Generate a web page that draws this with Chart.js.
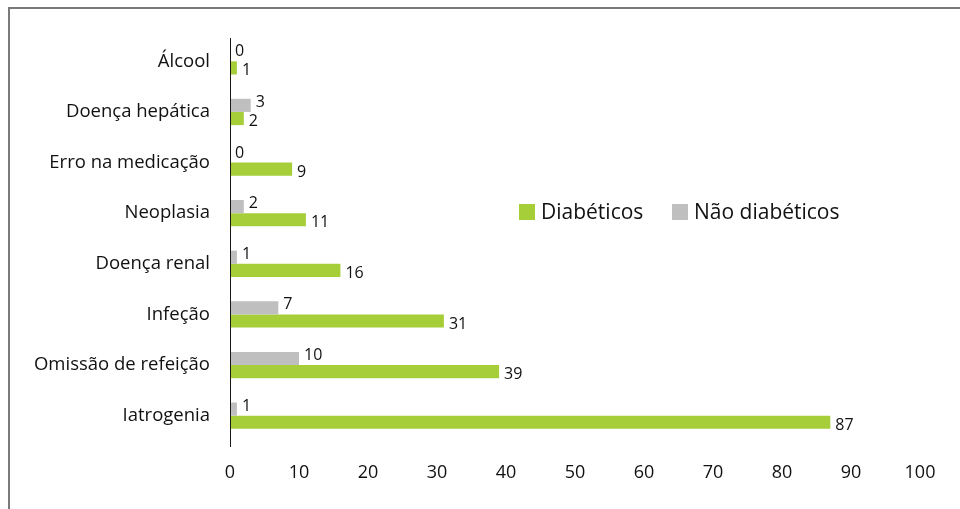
<!DOCTYPE html>
<html>
<head>
<meta charset="utf-8">
<script src="https://cdn.jsdelivr.net/npm/chart.js@4/dist/chart.umd.min.js"></script>
<style>
  html, body { margin: 0; padding: 0; background: #fff; }
  #wrap { width: 960px; height: 509px; position: relative; }
</style>
</head>
<body>
<div id="wrap"><canvas id="hipoChart" width="960" height="509"></canvas></div>
<script>
var causas = ["Álcool", "Doença hepática", "Erro na medicação", "Neoplasia", "Doença renal", "Infeção", "Omissão de refeição", "Iatrogenia"];
var diabeticos = [1, 2, 9, 11, 16, 31, 39, 87];
var naoDiabeticos = [0, 3, 0, 2, 1, 7, 10, 1];
var ticksX = [0, 10, 20, 30, 40, 50, 60, 70, 80, 90, 100];

var FONTE = "'Open Sans', 'Noto Sans', sans-serif";
var VERDE = "#a6ce39";
var CINZA = "#bfbfbf";
var TEXTO = "#111";

// moldura, eixo vertical, valores nas barras e legenda
var extras = {
	id: 'extras',
	beforeDraw: function(chart){
		var ctx = chart.ctx;
		ctx.save();
		ctx.strokeStyle = "#7a7a7a";
		ctx.lineWidth = 2;
		ctx.beginPath();
		ctx.moveTo(9, 509);
		ctx.lineTo(9, 8);
		ctx.lineTo(960, 8);
		ctx.stroke();
		ctx.restore();
	},
	afterDatasetsDraw: function(chart){
		var ctx = chart.ctx;
		var area = chart.chartArea;
		ctx.save();
		// eixo das categorias passa um pouco abaixo da última faixa
		ctx.strokeStyle = "#1a1a1a";
		ctx.lineWidth = 1;
		ctx.beginPath();
		ctx.moveTo(area.left + 0.5, area.top + 2);
		ctx.lineTo(area.left + 0.5, area.bottom + 6);
		ctx.stroke();

		ctx.font = "16px " + FONTE;
		ctx.fillStyle = TEXTO;
		ctx.textAlign = "left";
		ctx.textBaseline = "middle";
		chart.data.datasets.forEach(function(ds, i){
			var meta = chart.getDatasetMeta(i);
			var dy = i == 0 ? -3 : 3;
			meta.data.forEach(function(bar, j){
				ctx.fillText(String(ds.data[j]), bar.x + 5, bar.y + dy);
			});
		});

		// legenda
		ctx.font = "21px " + FONTE;
		var itens = [
			{texto: "Diabéticos", cor: VERDE, x: 519},
			{texto: "Não diabéticos", cor: CINZA, x: 672}
		];
		itens.forEach(function(it){
			ctx.fillStyle = it.cor;
			ctx.fillRect(it.x, 204, 16, 16);
			ctx.fillStyle = TEXTO;
			ctx.fillText(it.texto, it.x + 22, 213);
		});
		ctx.restore();
	}
};

new Chart(document.getElementById("hipoChart"), {
	type: 'bar',
	data: {
		labels: causas,
		datasets: [
			{label: "Não diabéticos", data: naoDiabeticos, backgroundColor: CINZA},
			{label: "Diabéticos", data: diabeticos, backgroundColor: VERDE}
		]
	},
	options: {
		indexAxis: 'y',
		responsive: false,
		animation: false,
		layout: {padding: {top: 36, right: 40, left: 0, bottom: 0}},
		datasets: {bar: {categoryPercentage: 0.52, barPercentage: 1}},
		plugins: {legend: {display: false}, tooltip: {enabled: false}},
		scales: {
			x: {
				min: 0,
				max: 100,
				afterBuildTicks: function(scale){
					scale.ticks = ticksX.map(function(v){ return {value: v}; });
				},
				afterFit: function(scale){ scale.height = 68; },
				grid: {display: false},
				border: {display: false},
				ticks: {padding: 13, color: TEXTO, font: {family: FONTE, size: 18}}
			},
			y: {
				afterFit: function(scale){ scale.width = 230; },
				grid: {display: false, drawTicks: false},
				border: {display: false},
				ticks: {padding: 20, color: TEXTO, font: {family: FONTE, size: 18.5}}
			}
		}
	},
	plugins: [extras]
});
</script>
</body>
</html>
